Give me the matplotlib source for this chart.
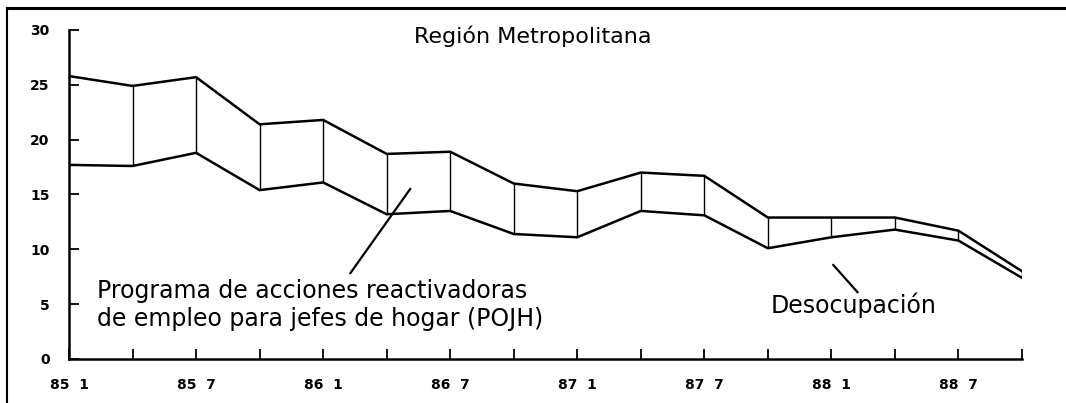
import matplotlib
matplotlib.use("Agg")
import matplotlib.pyplot as plt
from matplotlib.lines import Line2D

# quarterly series, Jan 1985 - Oct 1988
periods = ["85 1", "85 4", "85 7", "85 10", "86 1", "86 4", "86 7", "86 10",
           "87 1", "87 4", "87 7", "87 10", "88 1", "88 4", "88 7", "88 10"]
total = [25.8, 24.9, 25.7, 21.4, 21.8, 18.7, 18.9, 16.0,
         15.3, 17.0, 16.7, 12.9, 12.9, 12.9, 11.7, 8.0]
desocupacion = [17.7, 17.6, 18.8, 15.4, 16.1, 13.2, 13.5, 11.4,
                11.1, 13.5, 13.1, 10.1, 11.1, 11.8, 10.8, 7.4]

x = list(range(len(periods)))

fig = plt.figure(figsize=(10.66, 4.03), dpi=100)
ax = fig.add_axes([69 / 1066, 1 - 359 / 403, (1022 - 69) / 1066, (359 - 30) / 403])

ax.plot(x, total, color="black", lw=1.8)
ax.plot(x, desocupacion, color="black", lw=1.8)
ax.vlines(x, desocupacion, total, color="black", lw=1.0)

ax.set_xlim(0, len(periods) - 1)
ax.set_ylim(0, 30)
ax.set_yticks(range(0, 31, 5))
ax.set_xticks(x)
ax.set_xticklabels([p.replace(" ", "  ") if i % 2 == 0 else "" for i, p in enumerate(periods)])
ax.tick_params(direction="in", length=7, width=1.3)
ax.tick_params(axis="x", pad=14)
ax.tick_params(axis="y", pad=14)
for lab in ax.get_xticklabels() + ax.get_yticklabels():
    lab.set_fontweight("bold")
    lab.set_fontsize(10)
for s in ["top", "right"]:
    ax.spines[s].set_visible(False)
for s in ["left", "bottom"]:
    ax.spines[s].set_linewidth(1.8)

ax.text(7.3, 29.4, "Región Metropolitana", ha="center", va="center", fontsize=16)
ax.text(0.44, 4.9, "Programa de acciones reactivadoras\nde empleo para jefes de hogar (POJH)",
        ha="left", va="center", fontsize=17, linespacing=1.2)
ax.plot([4.43, 5.37], [7.84, 15.5], color="black", lw=1.6)
ax.text(11.04, 4.9, "Desocupación", ha="left", va="center", fontsize=17)
ax.plot([12.03, 12.41], [8.57, 6.1], color="black", lw=1.6)

# frame around the figure (top and left)
fig.add_artist(Line2D([7 / 1066, 1], [1 - 8 / 403, 1 - 8 / 403], color="black", lw=2.2))
fig.add_artist(Line2D([7 / 1066, 7 / 1066], [0, 1 - 8 / 403], color="black", lw=1.5))

fig.savefig("out.png", dpi=100)
